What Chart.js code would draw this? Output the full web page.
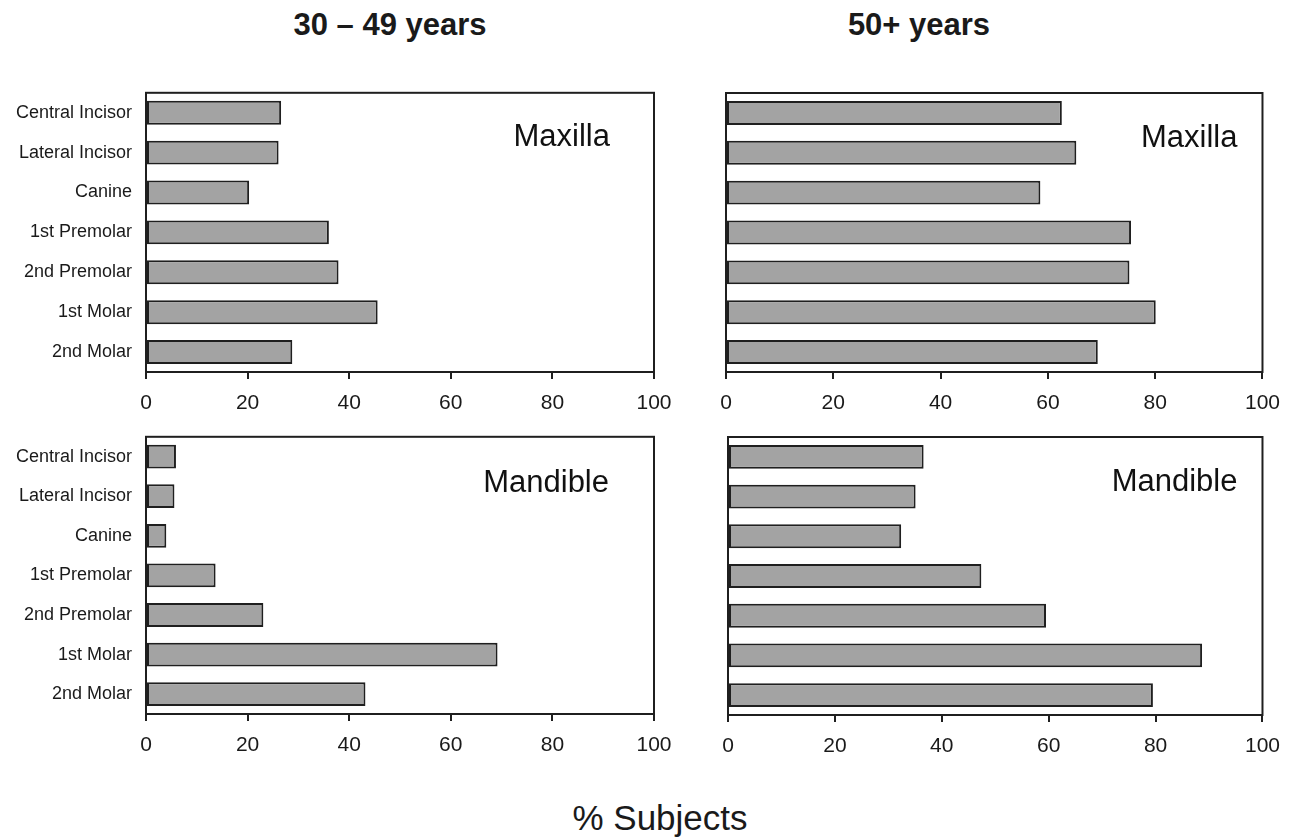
<!DOCTYPE html>
<html lang="en">
<head>
    <meta charset="UTF-8">
    <title>% Subjects by tooth type</title>
    <script src="https://cdn.jsdelivr.net/npm/chart.js"></script>
    <style>
        body { margin: 0; background: #fff; }
        #page { position: relative; width: 1294px; height: 839px; background: #fff; overflow: hidden; }
        #page canvas { position: absolute; }
        .txt { position: absolute; text-align: center; color: #1a1a1a; font-family: "Liberation Sans", Arial, sans-serif; white-space: nowrap; }
        .colTitle { font-size: 31px; font-weight: bold; line-height: 31px; width: 400px; top: 9px; }
    </style>
</head>
<body>
    <div id="page">
        <div class="txt colTitle" style="left: 190px;">30 – 49 years</div>
        <div class="txt colTitle" style="left: 719px;">50+ years</div>
        <canvas id="maxYoung" width="684" height="344" style="left: 0px; top: 68px;"></canvas>
        <canvas id="maxOld" width="592" height="339" style="left: 700px; top: 73px;"></canvas>
        <canvas id="manYoung" width="684" height="342" style="left: 0px; top: 412px;"></canvas>
        <canvas id="manOld" width="590" height="338" style="left: 702px; top: 417px;"></canvas>
        <div class="txt" style="left: 460px; width: 400px; top: 800px; font-size: 35px; line-height: 35px;">% Subjects</div>
    </div>

    <script>
        // Data (% subjects)
        const teeth = ['Central Incisor', 'Lateral Incisor', 'Canine', '1st Premolar', '2nd Premolar', '1st Molar', '2nd Molar'];
        const maxilla30to49 = [26.6, 26.1, 20.3, 36.0, 37.9, 45.6, 28.8];
        const maxilla50plus = [62.6, 65.3, 58.6, 75.5, 75.2, 80.1, 69.3];
        const mandible30to49 = [5.9, 5.6, 4.0, 13.7, 23.1, 69.2, 43.2];
        const mandible50plus = [36.6, 35.1, 32.4, 47.4, 59.5, 88.7, 79.5];
        const xTickValues = [0, 20, 40, 60, 80, 100];

        const FONT = '"Liberation Sans", Arial, sans-serif';
        const INK = '#1f1f1f';

        // frame round the plot area + the "Maxilla"/"Mandible" label
        const panelPlugin = {
            id: 'panel',
            afterDraw(chart, args, opts) {
                const a = chart.chartArea;
                const ctx = chart.ctx;
                ctx.save();
                ctx.strokeStyle = INK;
                ctx.lineWidth = 2;
                ctx.strokeRect(a.left, a.top, a.right - a.left, a.bottom - a.top);
                ctx.fillStyle = '#111';
                ctx.font = '31px ' + FONT;
                ctx.textAlign = 'right';
                ctx.textBaseline = 'alphabetic';
                ctx.fillText(opts.text, a.right - opts.dx, a.top + opts.dy);
                ctx.restore();
            }
        };

        function makePanel(id, values, label, showNames, yWidth, padTop, padRight, labelDx, labelDy) {
            const ctx = document.getElementById(id).getContext('2d');
            new Chart(ctx, {
                type: 'bar',
                data: {
                    labels: teeth,
                    datasets: [{
                        data: values,
                        backgroundColor: '#a3a3a3',
                        borderColor: INK,
                        borderWidth: 2,
                        borderSkipped: false,
                        barPercentage: 0.6,
                        categoryPercentage: 1.0
                    }]
                },
                options: {
                    indexAxis: 'y',
                    responsive: false,
                    animation: false,
                    layout: { padding: { top: padTop, right: padRight, left: 0, bottom: 0 } },
                    plugins: {
                        legend: { display: false },
                        tooltip: { enabled: false },
                        panel: { text: label, dx: labelDx, dy: labelDy }
                    },
                    scales: {
                        x: {
                            min: 0,
                            max: 100,
                            afterBuildTicks: (scale) => { scale.ticks = xTickValues.map(v => ({ value: v })); },
                            afterFit: (scale) => { scale.height = 40; },
                            border: { display: false },
                            grid: { drawOnChartArea: false, drawTicks: true, tickLength: 7, color: INK, lineWidth: 2 },
                            ticks: { color: '#1a1a1a', font: { family: FONT, size: 21 }, padding: 12, maxRotation: 0 }
                        },
                        y: {
                            afterFit: (scale) => { scale.width = yWidth; },
                            border: { display: false },
                            grid: { display: false, drawTicks: false },
                            ticks: { display: showNames, color: '#1a1a1a', font: { family: FONT, size: 18 }, padding: 14 }
                        }
                    }
                },
                plugins: [panelPlugin]
            });
        }

        makePanel('maxYoung', maxilla30to49, 'Maxilla', true, 146, 14, 30, 44, 53);
        makePanel('maxOld', maxilla50plus, 'Maxilla', false, 26, 20, 28, 25, 54);
        makePanel('manYoung', mandible30to49, 'Mandible', true, 146, 14, 30, 45, 55);
        makePanel('manOld', mandible50plus, 'Mandible', false, 26, 20, 26, 25, 54);
    </script>
</body>
</html>
